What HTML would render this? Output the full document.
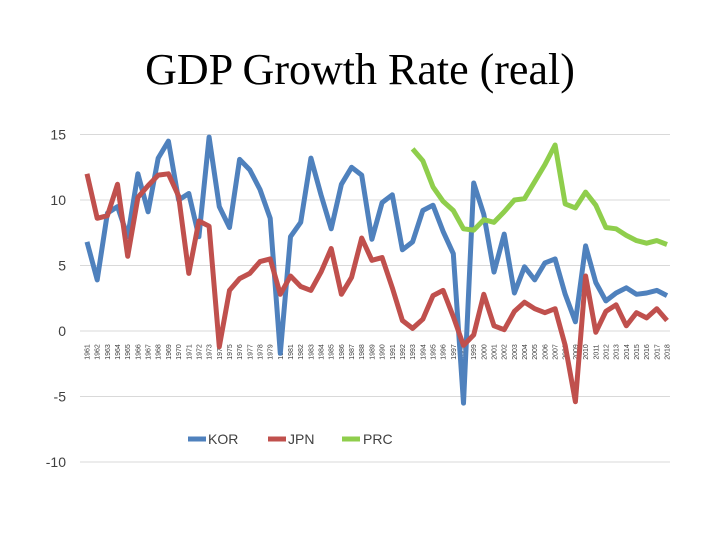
<!DOCTYPE html>
<html><head><meta charset="utf-8"><style>
body{margin:0;background:#fff;width:720px;height:540px;overflow:hidden}
svg{display:block}
</style></head><body>
<svg id="chart" width="720" height="540">
<text x="360" y="84" text-anchor="middle" font-family="Liberation Serif, serif" font-size="44" fill="#000">GDP Growth Rate (real)</text>
<g id="grid"></g><g id="xlab"></g><g id="series"></g>
<g>
<line x1="188" y1="439" x2="206" y2="439" stroke="#4f81bd" stroke-width="5"/>
<text x="208" y="444" font-family="Liberation Sans, sans-serif" font-size="14" fill="#404040">KOR</text>
<line x1="268" y1="439" x2="286" y2="439" stroke="#c0504d" stroke-width="5"/>
<text x="288" y="444" font-family="Liberation Sans, sans-serif" font-size="14" fill="#404040">JPN</text>
<line x1="342" y1="439" x2="360" y2="439" stroke="#8fce4c" stroke-width="5"/>
<text x="363" y="444" font-family="Liberation Sans, sans-serif" font-size="14" fill="#404040">PRC</text>
</g>
</svg>
<script>
const years=[];for(let y=1961;y<=2018;y++)years.push(y);
const yTicks=[15,10,5,0,-5,-10];
const kor=[6.8,3.9,9.0,9.5,7.2,12.0,9.1,13.2,14.5,10.0,10.5,7.2,14.8,9.5,7.9,13.1,12.3,10.8,8.6,-1.7,7.2,8.3,13.2,10.4,7.8,11.2,12.5,11.9,7.0,9.8,10.4,6.2,6.8,9.2,9.6,7.6,5.9,-5.5,11.3,8.9,4.5,7.4,2.9,4.9,3.9,5.2,5.5,2.8,0.7,6.5,3.7,2.3,2.9,3.3,2.8,2.9,3.1,2.7];
const jpn=[12.0,8.6,8.8,11.2,5.7,10.2,11.1,11.9,12.0,10.3,4.4,8.4,8.0,-1.2,3.1,4.0,4.4,5.3,5.5,2.8,4.2,3.4,3.1,4.5,6.3,2.8,4.1,7.1,5.4,5.6,3.3,0.8,0.2,0.9,2.7,3.1,1.1,-1.1,-0.3,2.8,0.4,0.1,1.5,2.2,1.7,1.4,1.7,-1.1,-5.4,4.2,-0.1,1.5,2.0,0.4,1.4,1.0,1.7,0.8];
const prcStart=1993;
const prc=[13.9,13.0,11.0,9.9,9.2,7.8,7.7,8.5,8.3,9.1,10.0,10.1,11.4,12.7,14.2,9.7,9.4,10.6,9.6,7.9,7.8,7.3,6.9,6.7,6.9,6.6];
const NS='http://www.w3.org/2000/svg';
const xs=i=>87+i*(580/57);
const ys=v=>331-13.1*v;
function mk(t,a,p){const e=document.createElementNS(NS,t);for(const k in a)e.setAttribute(k,a[k]);p.appendChild(e);return e;}
const grid=document.getElementById('grid');
yTicks.forEach(v=>{
 const l=mk('line',{x1:80,x2:670,y1:ys(v),y2:ys(v),stroke:'#d9d9d9','stroke-width':1},grid);
 
 
 const t=mk('text',{x:66,y:ys(v)+5,'text-anchor':'end','font-family':'Liberation Sans, sans-serif','font-size':14,fill:'#404040'},grid);
 t.textContent=v;
 
 
});
const xl=document.getElementById('xlab');
years.forEach((y,i)=>{
 const x=xs(i);
 const t=mk('text',{x:0,y:0,transform:`translate(${x+2.5},352) rotate(-90)`,'text-anchor':'middle','font-family':'Liberation Sans, sans-serif','font-size':7,fill:'#404040'},xl);
 t.textContent=y;
 
 
});
const sg=document.getElementById('series');
function line(vals,off,color,name){
 const d=vals.map((v,i)=>(i?'L':'M')+xs(i+off).toFixed(1)+' '+ys(v).toFixed(1)).join(' ');
 const p=mk('path',{d:d,fill:'none',stroke:color,'stroke-width':5,'stroke-linejoin':'round'},sg);
 
 
}
line(kor,0,'#4f81bd','kor-line');
line(jpn,0,'#c0504d','jpn-line');
line(prc,prcStart-1961,'#8fce4c','prc-line');
</script>
</body></html>
